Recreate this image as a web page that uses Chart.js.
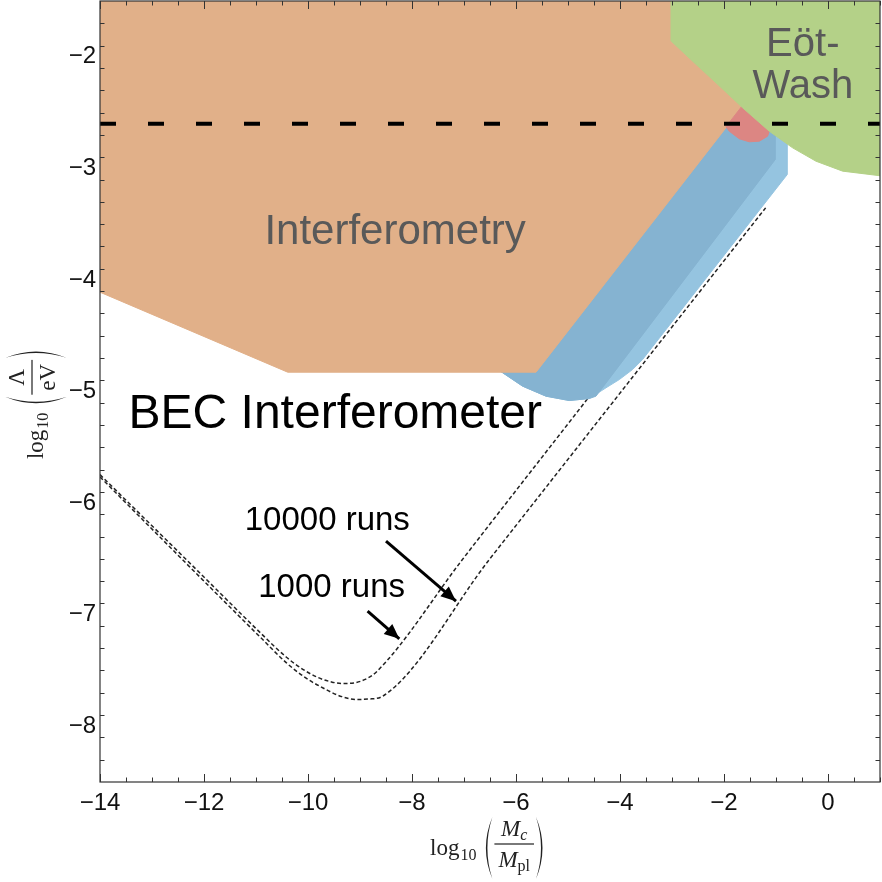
<!DOCTYPE html>
<html>
<head>
<meta charset="utf-8">
<script src="https://cdn.jsdelivr.net/npm/chart.js@4.4.1/dist/chart.umd.min.js"></script>
<style>
  html, body { margin: 0; padding: 0; background: #fff; }
  #wrap { width: 882px; height: 882px; position: relative; }
</style>
</head>
<body>
<div id="wrap"><canvas id="chart"></canvas></div>
<script>
// axes: log10(Mc/Mpl) horizontally, log10(Lambda/eV) vertically
const xTicks = [-14, -12, -10, -8, -6, -4, -2, 0];
const yTicks = [-8, -7, -6, -5, -4, -3, -2];

// BEC interferometer sensitivity curves
const runs1000X  = [-14, -12.09, -10.9, -10.42, -10.1, -9.8, -9.55, -9.34, -9.12, -8.9, -8.69, -7.03, -4.56, -1.5];
const runs1000Y  = [-5.745, -6.622, -7.17, -7.38, -7.49, -7.565, -7.603, -7.617, -7.612, -7.58, -7.516, -6.506, -5.027, -3.195];
const runs10000X = [-14, -12.09, -10.9, -10.42, -10.05, -9.7, -9.35, -9.077, -8.821, -8.565, -6.513, -3.692, -1.2];
const runs10000Y = [-5.765, -6.658, -7.21, -7.43, -7.565, -7.66, -7.735, -7.76, -7.756, -7.731, -6.506, -4.832, -3.354];

// excluded regions (closed outlines)
const orangeX = [-14, -14, -10.39, -5.615, 0.098, -14];
const orangeY = [-1.4, -4.11, -4.827, -4.827, -1.4, -1.4];
const greenX = [-3.013, -3.013, -2.604, -2.154, -1.642, -1.129, -0.681, -0.231, 0.281, 1.1, 1.1, -3.013];
const greenY = [-1.4, -1.86, -2.039, -2.233, -2.457, -2.667, -2.816, -2.936, -3.025, -3.072, -1.4, -1.4];
const redX = [-1.962, -1.55, -1.129, -1.162, -1.321, -1.513, -1.706, -1.898, -1.962];
const redY = [-2.627, -2.38, -2.667, -2.712, -2.756, -2.762, -2.735, -2.667, -2.627];
const lightBlueX = [-6.288, -5.873, -5.423, -4.975, -4.59, -4.269, -4.013, -3.758, -3.565, -0.783, -0.783, -2.09, -6.129, -6.288];
const lightBlueY = [-4.822, -4.952, -5.042, -5.081, -5.063, -4.967, -4.893, -4.803, -4.713, -3.055, -2.634, -2.634, -4.80, -4.822];
const darkBlueX = [-6.288, -5.873, -5.423, -4.975, -4.59, -4.462, -1.013, -1.013, -2.09, -6.129, -6.288];
const darkBlueY = [-4.822, -4.952, -5.042, -5.081, -5.063, -5.042, -2.92, -2.634, -2.634, -4.80, -4.822];

// horizontal reference level
const refLevel = -2.6;

// arrows pointing at the curves
const arrowFromX = [-8.5, -8.854];
const arrowFromY = [-6.342, -6.969];
const arrowToX = [-7.154, -8.244];
const arrowToY = [-6.879, -7.217];

const pts = (xs, ys) => xs.map((v, i) => ({ x: v, y: ys[i] }));
const sans = '"Liberation Sans", Arial, sans-serif';
const serif = '"Liberation Serif", "Times New Roman", serif';
const minus = v => String(v).replace('-', '\u2212');

function region(data, color, order) {
  return {
    data: data, order: order, fill: 'shape', backgroundColor: color,
    borderColor: color, borderWidth: 1, pointRadius: 0, tension: 0
  };
}
function dashedCurve(data, order) {
  return {
    data: data, order: order, fill: false, borderColor: '#222', borderWidth: 1.5,
    borderDash: [4, 2.5], pointRadius: 0, cubicInterpolationMode: 'monotone', tension: 0.4
  };
}

const datasets = [
  dashedCurve(pts(runs10000X, runs10000Y), 20),
  dashedCurve(pts(runs1000X, runs1000Y), 19),
  region(pts(lightBlueX, lightBlueY), '#95c4e0', 18),
  region(pts(darkBlueX, darkBlueY), '#85b3d1', 17),
  region(pts(orangeX, orangeY), '#e1b089', 16),
  region(pts(redX, redY), '#dc8683', 15),
  region(pts(greenX, greenY), '#b4d188', 14),
  {
    data: [{ x: -14, y: refLevel }, { x: 1, y: refLevel }], order: 1, fill: false,
    borderColor: '#000', borderWidth: 4, borderDash: [16, 32], pointRadius: 0
  }
];
arrowFromX.forEach((v, i) => {
  datasets.push({
    data: [{ x: v, y: arrowFromY[i] }, { x: arrowToX[i], y: arrowToY[i] }],
    order: 2, fill: false, borderColor: '#000', borderWidth: 3, pointRadius: 0
  });
});

// labels placed in data coordinates
const labels = [
  { t: 'Interferometry', x: -8.325, y: -3.682, size: 42, color: '#595959' },
  { t: 'Eöt-', x: -0.485, y: -1.995, size: 40, color: '#595959' },
  { t: 'Wash', x: -0.485, y: -2.367, size: 40, color: '#595959' },
  { t: 'BEC Interferometer', x: -9.475, y: -5.323, size: 48, color: '#000' },
  { t: '10000 runs', x: -9.629, y: -6.237, size: 33, color: '#000' },
  { t: '1000 runs', x: -9.546, y: -6.84, size: 33, color: '#000' }
];

function drawParts(ctx, parts, u, v) {
  parts.forEach(p => {
    ctx.font = p.f;
    ctx.fillText(p.t, u, v + (p.dy || 0));
    u += ctx.measureText(p.t).width;
  });
}
function partsWidth(ctx, parts) {
  return parts.reduce((s, p) => { ctx.font = p.f; return s + ctx.measureText(p.t).width; }, 0);
}
function paren(ctx, u, w, right) {
  const top = -27, bot = 35, mid = (top + bot) / 2;
  const edge = right ? u + 2 : u + w - 2;
  const bulge = right ? u + w - 1 : u + 1;
  ctx.beginPath();
  ctx.moveTo(edge, top);
  ctx.quadraticCurveTo(bulge + (right ? 3 : -3), mid, edge, bot);
  ctx.quadraticCurveTo(bulge, mid, edge, top);
  ctx.fill();
}
// log10( num / den ) typeset roughly like the original
function mathTitle(ctx, cx, cy, angle, num, den) {
  ctx.save();
  ctx.translate(cx, cy);
  ctx.rotate(angle);
  ctx.fillStyle = '#222';
  ctx.textBaseline = 'alphabetic';
  ctx.textAlign = 'left';
  ctx.font = '23px ' + serif;
  const wLog = ctx.measureText('log').width;
  ctx.font = '16px ' + serif;
  const wSub = ctx.measureText('10').width;
  const wNum = partsWidth(ctx, num), wDen = partsWidth(ctx, den);
  const wFrac = Math.max(wNum, wDen) + 8;
  const pw = 13, gap = 5;
  const total = wLog + wSub + gap + pw + wFrac + pw;
  let u = -total / 2;
  ctx.font = '23px ' + serif;
  ctx.fillText('log', u, 11);
  u += wLog + 1;
  ctx.font = '16px ' + serif;
  ctx.fillText('10', u, 16);
  u += wSub + gap;
  paren(ctx, u, pw, false);
  u += pw;
  ctx.fillRect(u, -0.6, wFrac, 1.2);
  drawParts(ctx, num, u + (wFrac - wNum) / 2, -8);
  drawParts(ctx, den, u + (wFrac - wDen) / 2, 23);
  u += wFrac;
  paren(ctx, u, pw, true);
  ctx.restore();
}

const overlay = {
  id: 'overlay',
  afterDatasetsDraw(chart) {
    const { ctx, chartArea: a, scales: { x, y } } = chart;
    ctx.save();

    // arrow heads
    ctx.fillStyle = '#000';
    arrowToX.forEach((v, i) => {
      const tx = x.getPixelForValue(v), ty = y.getPixelForValue(arrowToY[i]);
      const fx = x.getPixelForValue(arrowFromX[i]), fy = y.getPixelForValue(arrowFromY[i]);
      const ang = Math.atan2(ty - fy, tx - fx);
      ctx.save();
      ctx.translate(tx, ty);
      ctx.rotate(ang);
      ctx.beginPath();
      ctx.moveTo(0, 0);
      ctx.lineTo(-15, -6.5);
      ctx.lineTo(-15, 6.5);
      ctx.closePath();
      ctx.fill();
      ctx.restore();
    });

    // text labels
    ctx.textAlign = 'center';
    ctx.textBaseline = 'alphabetic';
    labels.forEach(l => {
      ctx.font = l.size + 'px ' + sans;
      ctx.fillStyle = l.color;
      ctx.fillText(l.t, x.getPixelForValue(l.x), y.getPixelForValue(l.y));
    });

    // frame with inward ticks on all four sides
    ctx.strokeStyle = '#333';
    ctx.lineWidth = 1.2;
    ctx.strokeRect(a.left, a.top, a.right - a.left, a.bottom - a.top);
    ctx.lineWidth = 1;
    ctx.beginPath();
    for (let k = 0; k <= 30; k++) {
      const v = -14 + k * 0.5;
      const px = Math.round(x.getPixelForValue(v)) + 0.5;
      const len = xTicks.includes(v) ? 8 : 4.5;
      ctx.moveTo(px, a.bottom); ctx.lineTo(px, a.bottom - len);
      ctx.moveTo(px, a.top); ctx.lineTo(px, a.top + len);
    }
    for (let k = 1; k <= 34; k++) {
      const v = Math.round((-8.5 + k * 0.2) * 10) / 10;
      const py = Math.round(y.getPixelForValue(v)) + 0.5;
      const len = yTicks.includes(v) ? 8 : 4.5;
      ctx.moveTo(a.left, py); ctx.lineTo(a.left + len, py);
      ctx.moveTo(a.right, py); ctx.lineTo(a.right - len, py);
    }
    ctx.stroke();

    // axis titles
    const it = 'italic 23px ' + serif, up = '23px ' + serif;
    const itS = 'italic 16px ' + serif, upS = '16px ' + serif;
    mathTitle(ctx, (a.left + a.right) / 2 - 2, a.bottom + 62, 0,
      [{ t: 'M', f: it }, { t: 'c', f: itS, dy: 4 }],
      [{ t: 'M', f: it }, { t: 'pl', f: upS, dy: 4 }]);
    mathTitle(ctx, 32, (a.top + a.bottom) / 2 + 12, -Math.PI / 2,
      [{ t: '\u039B', f: up }],
      [{ t: 'eV', f: up }]);
    ctx.restore();
  }
};

new Chart(document.getElementById('chart'), {
  type: 'line',
  data: { datasets: datasets },
  options: {
    responsive: true,
    maintainAspectRatio: false,
    animation: false,
    layout: { padding: { left: 0, right: 2, top: 1, bottom: 0 } },
    plugins: { legend: { display: false }, tooltip: { enabled: false } },
    scales: {
      x: {
        type: 'linear', min: -14, max: 1,
        afterBuildTicks: s => { s.ticks = xTicks.map(v => ({ value: v })); },
        afterFit: s => { s.height = 100; s.paddingLeft = 0; s.paddingRight = 0; },
        grid: { display: false, drawTicks: false },
        border: { display: false },
        ticks: { callback: v => minus(v), padding: 7, color: '#111', maxRotation: 0, font: { family: sans, size: 24 } }
      },
      y: {
        type: 'linear', min: -8.5, max: -1.5,
        afterBuildTicks: s => { s.ticks = yTicks.map(v => ({ value: v })); },
        afterFit: s => { s.width = 100; s.paddingTop = 0; s.paddingBottom = 0; },
        grid: { display: false, drawTicks: false },
        border: { display: false },
        ticks: { callback: v => minus(v), padding: 4, color: '#111', font: { family: sans, size: 24 } }
      }
    }
  },
  plugins: [overlay]
});
</script>
</body>
</html>
